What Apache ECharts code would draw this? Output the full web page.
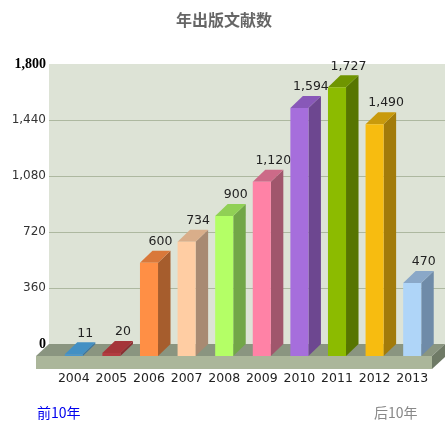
<!DOCTYPE html>
<html>
<head>
<meta charset="utf-8">
<title>年出版文献数</title>
<script src="https://cdn.jsdelivr.net/npm/echarts@6/dist/echarts.min.js"></script>
<style>
html, body { margin: 0; padding: 0; background: #fff; }
#main { width: 446px; height: 421px; }
</style>
</head>
<body>
<div id="main"></div>
<script>
var years = ['2004', '2005', '2006', '2007', '2008', '2009', '2010', '2011', '2012', '2013'];
var counts = [11, 20, 600, 734, 900, 1120, 1594, 1727, 1490, 470];
var tickMax = 1800;
var tickStep = 360;
var boldTicks = [0, 1800];

var barColors = ['#4a96cc', '#b23b40', '#ff8f45', '#ffcda3', '#b4ff66', '#ff82a6', '#a66edc', '#8cbb00', '#f7bc10', '#afd5f8'];
var sideColors = ['#3a75a0', '#8a2e32', '#a65d2d', '#a88a72', '#72a648', '#a0566c', '#6d4790', '#577500', '#a27b0a', '#6f8ba8'];
var topColors = ['#4390c4', '#a53539', '#d9783a', '#d9ae8a', '#90d055', '#cc6a88', '#8858b8', '#6f9500', '#c99a0c', '#8aa8c8'];

// 3d depth of the bars and the floor
var depthX = 12.5;
var depthY = 12;

function thousands(v) {
	return String(v).replace(/\B(?=(\d{3})+$)/g, ',');
}

function renderBar(params, api) {
	var i = api.value(0);
	var base = api.coord([i, 0]);
	var top = api.coord([i, api.value(1)]);
	var w = api.size([1, 0])[0] * 0.48;
	var l = base[0] - w / 2;
	var r = base[0] + w / 2;
	var y0 = base[1];
	var y1 = top[1];
	return {
		type: 'group',
		children: [
			{
				type: 'polygon',
				shape: { points: [[r, y0], [r + depthX, y0 - depthY], [r + depthX, y1 - depthY], [r, y1]] },
				style: { fill: sideColors[i] }
			},
			{
				type: 'polygon',
				shape: { points: [[l, y1], [r, y1], [r + depthX, y1 - depthY], [l + depthX, y1 - depthY]] },
				style: { fill: topColors[i] }
			},
			{
				type: 'rect',
				shape: { x: l, y: y1, width: w, height: y0 - y1 },
				style: { fill: barColors[i] }
			},
			{
				type: 'text',
				x: base[0] + 11.5,
				y: y1 - 21,
				style: {
					text: thousands(api.value(1)),
					font: '12.5px "DejaVu Sans"',
					fill: '#222',
					align: 'center',
					verticalAlign: 'middle'
				}
			}
		]
	};
}

var chart = echarts.init(document.getElementById('main'));

chart.setOption({
	animation: false,
	title: {
		text: '年出版文献数',
		left: 219,
		top: 7,
		textAlign: 'center',
		textStyle: { fontFamily: '"Noto Sans CJK SC"', fontSize: 16, fontWeight: 'bold', color: '#666' }
	},
	grid: [
		// back wall
		{ left: 49, top: 64, width: 396, height: 280, show: true, backgroundColor: '#dde3d6', borderWidth: 0 },
		// front plane the bars stand on
		{ left: 55, top: 76, width: 376, height: 280 }
	],
	xAxis: [
		{ gridIndex: 0, type: 'value', show: false },
		{
			gridIndex: 1,
			type: 'category',
			data: years,
			axisLine: { show: false },
			axisTick: { show: false },
			axisLabel: { margin: 16, fontFamily: '"DejaVu Sans"', fontSize: 12.5, color: '#222', interval: 0 }
		}
	],
	yAxis: [
		{
			gridIndex: 0,
			type: 'value',
			min: 0,
			max: tickMax,
			interval: tickStep,
			axisLine: { show: false },
			axisTick: { show: false },
			axisLabel: {
				margin: 3,
				formatter: function (v) {
					var s = thousands(v);
					return boldTicks.indexOf(v) >= 0 ? '{b|' + s + '}' : '{n|' + s + '}';
				},
				rich: {
					n: { fontFamily: '"DejaVu Sans"', fontSize: 12, color: '#333' },
					b: { fontFamily: '"Liberation Serif"', fontSize: 14, fontWeight: 'bold', color: '#000' }
				}
			},
			splitLine: { show: true, showMinLine: false, showMaxLine: false, lineStyle: { color: '#adb8a0', width: 1 } }
		},
		{ gridIndex: 1, type: 'value', min: 0, max: tickMax, interval: tickStep, show: false, splitLine: { show: false } }
	],
	series: [
		{
			type: 'custom',
			xAxisIndex: 1,
			yAxisIndex: 1,
			clip: false,
			renderItem: renderBar,
			encode: { x: 0, y: 1 },
			data: counts.map(function (v, i) { return [i, v]; })
		}
	],
	graphic: [
		{
			type: 'polygon', z: 1,
			shape: { points: [[49, 344], [445, 344], [432, 356], [36, 356]] },
			style: { fill: '#8a9580' }
		},
		{
			type: 'rect', z: 1,
			shape: { x: 36, y: 356, width: 396, height: 13 },
			style: { fill: '#abb69a' }
		},
		{
			type: 'polygon', z: 1,
			shape: { points: [[432, 356], [445, 344], [445, 357], [432, 369]] },
			style: { fill: '#6f7a66' }
		},
		{
			type: 'text', z: 3, x: 37, y: 406,
			style: { text: '前10年', font: '14px "Noto Sans CJK SC"', fill: '#0000ee' }
		},
		{
			type: 'text', z: 3, x: 374, y: 406,
			style: { text: '后10年', font: '14px "Noto Sans CJK SC"', fill: '#888' }
		}
	]
});
</script>
</body>
</html>
